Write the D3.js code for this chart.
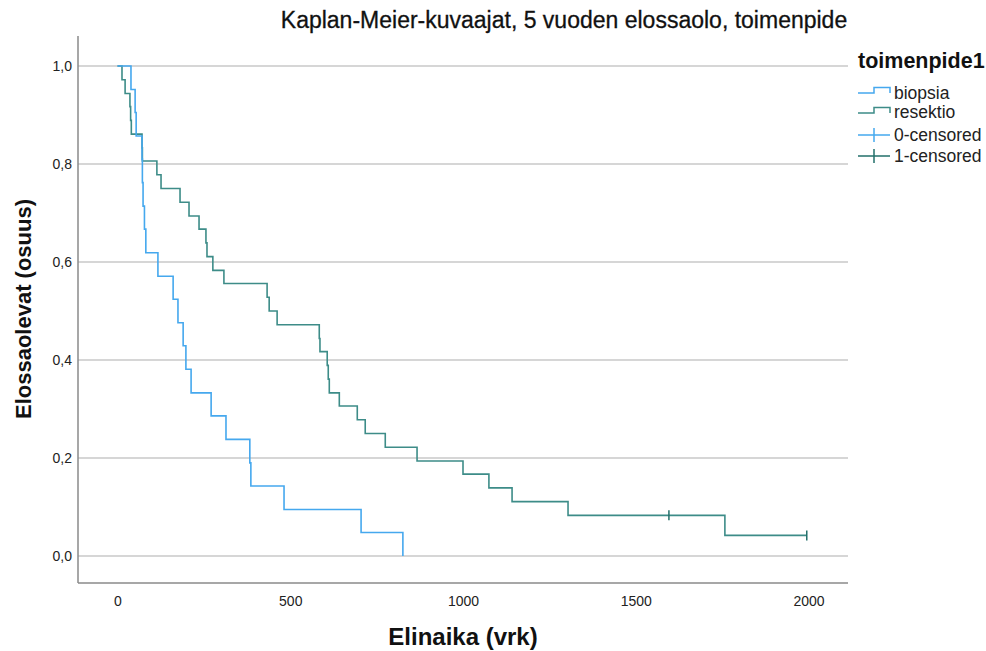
<!DOCTYPE html>
<html>
<head>
<meta charset="utf-8">
<script src="https://cdn.jsdelivr.net/npm/d3@7/dist/d3.min.js"></script>
<style>
html,body{margin:0;padding:0;background:#fff;}
svg{display:block;font-family:"Liberation Sans",Arial,sans-serif;}
</style>
</head>
<body>
<svg id="chart" width="986" height="651"></svg>
<script>
// ---- data ----
const title = "Kaplan-Meier-kuvaajat, 5 vuoden elossaolo, toimenpide";
const xTitle = "Elinaika (vrk)";
const yTitle = "Elossaolevat (osuus)";
const legendTitle = "toimenpide1";
const seriesNames = ["biopsia", "resektio"];
const censorNames = ["0-censored", "1-censored"];
const xTicks = [0, 500, 1000, 1500, 2000];
const yTicks = [0, 0.2, 0.4, 0.6, 0.8, 1.0];

const biopsiaTimes = [0, 39, 51, 54, 71, 72, 74, 78, 82, 117, 161, 175, 190, 198, 213, 271, 314, 383, 386, 482, 705, 826];
const biopsiaSurv  = [1, 0.952, 0.905, 0.857, 0.810, 0.762, 0.714, 0.667, 0.619, 0.571, 0.524, 0.476, 0.429, 0.381, 0.333, 0.286, 0.238, 0.190, 0.143, 0.095, 0.048, 0];

const resektioTimes = [0, 13, 22, 36, 38, 40, 71, 72, 114, 126, 181, 207, 236, 256, 259, 276, 308, 433, 439, 462, 584, 586, 607, 610, 613, 642, 694, 717, 775, 867, 1000, 1075, 1142, 1304, 1758];
const resektioSurv  = [1, 0.972, 0.944, 0.917, 0.889, 0.861, 0.833, 0.806, 0.778, 0.750, 0.722, 0.694, 0.667, 0.639, 0.611, 0.583, 0.556, 0.528, 0.500, 0.472, 0.444, 0.417, 0.389, 0.361, 0.333, 0.306, 0.278, 0.250, 0.222, 0.194, 0.167, 0.139, 0.111, 0.083, 0.042];
const resektioEnd = 1995;
const resektioCensTimes = [1596, 1995];
const resektioCensSurv  = [0.083, 0.042];

// ---- layout ----
const colors = ["#45a8ee", "#3d8c88"];
const censColors = ["#45a8ee", "#226f6a"];
const svg = d3.select("#chart");
const plotL = 78, plotR = 848, plotT = 36, plotB = 583;

const x = d3.scaleLinear().domain([0, 2000]).range([117.5, 808.5]);
const y = d3.scaleLinear().domain([0, 1]).range([556, 66]);

// gridlines
svg.append("g").selectAll("line").data(yTicks).join("line")
  .attr("x1", plotL).attr("x2", plotR)
  .attr("y1", d => y(d)).attr("y2", d => y(d))
  .attr("stroke", "#c8c8c8").attr("stroke-width", 1.5);

// axes lines
svg.append("line").attr("x1", plotL).attr("x2", plotL).attr("y1", plotT).attr("y2", plotB)
  .attr("stroke", "#8a8a8a").attr("stroke-width", 1.5);
svg.append("line").attr("x1", plotL).attr("x2", plotR).attr("y1", plotB).attr("y2", plotB)
  .attr("stroke", "#8a8a8a").attr("stroke-width", 1.5);

// axis tick labels via d3 axes (no tick lines)
const fmt = d => d3.format(".1f")(d).replace(".", ",");
const yAxis = svg.append("g").attr("transform", `translate(${plotL},0)`)
  .call(d3.axisLeft(y).tickValues(yTicks).tickFormat(fmt).tickSize(0).tickPadding(6));
yAxis.select(".domain").remove();
yAxis.selectAll("text").attr("font-size", 14).attr("fill", "#222").attr("font-family", "Liberation Sans, Arial, sans-serif");

const xAxis = svg.append("g").attr("transform", `translate(0,${plotB})`)
  .call(d3.axisBottom(x).tickValues(xTicks).tickFormat(d3.format("d")).tickSize(0).tickPadding(13));
xAxis.select(".domain").remove();
xAxis.selectAll("text").attr("font-size", 14).attr("fill", "#222").attr("font-family", "Liberation Sans, Arial, sans-serif");

// step lines
function stepPoints(times, surv, end) {
  const pts = times.map((t, i) => [t, surv[i]]);
  if (end !== undefined) pts.push([end, surv[surv.length - 1]]);
  return pts;
}
const line = d3.line().x(d => x(d[0])).y(d => y(d[1])).curve(d3.curveStepAfter);

svg.append("path").datum(stepPoints(resektioTimes, resektioSurv, resektioEnd))
  .attr("d", line).attr("fill", "none").attr("stroke", colors[1]).attr("stroke-width", 1.6);
svg.append("path").datum(stepPoints(biopsiaTimes, biopsiaSurv))
  .attr("d", line).attr("fill", "none").attr("stroke", colors[0]).attr("stroke-width", 1.6);

// censor marks
svg.append("g").selectAll("line").data(resektioCensTimes.map((t, i) => [t, resektioCensSurv[i]])).join("line")
  .attr("x1", d => x(d[0])).attr("x2", d => x(d[0]))
  .attr("y1", d => y(d[1]) - 5).attr("y2", d => y(d[1]) + 5)
  .attr("stroke", censColors[1]).attr("stroke-width", 1.5);

// title
svg.append("text").attr("x", 564).attr("y", 28).attr("text-anchor", "middle")
  .attr("font-size", 23).attr("fill", "#111").attr("stroke", "#111").attr("stroke-width", 0.3).text(title);

// axis titles
svg.append("text").attr("x", 463).attr("y", 645).attr("text-anchor", "middle")
  .attr("font-size", 24).attr("font-weight", "bold").attr("fill", "#111").text(xTitle);
svg.append("text").attr("transform", "translate(31,309) rotate(-90)").attr("text-anchor", "middle")
  .attr("font-size", 22).attr("font-weight", "bold").attr("fill", "#111").text(yTitle);

// legend
const lg = svg.append("g");
lg.append("text").attr("x", 858).attr("y", 68).attr("font-size", 21.5).attr("font-weight", "bold")
  .attr("fill", "#111").text(legendTitle);
const symY = [93, 113];
const textY = [99, 118];
seriesNames.forEach((name, i) => {
  const yy = symY[i];
  lg.append("path").attr("d", `M858,${yy}H874V${yy-5.5}H890V${yy}`)
    .attr("fill", "none").attr("stroke", colors[i]).attr("stroke-width", 1.5);
  lg.append("text").attr("x", 894).attr("y", textY[i]).attr("font-size", 17.5).attr("fill", "#222").text(name);
});
const censY = [135, 156];
censorNames.forEach((name, i) => {
  const yy = censY[i];
  lg.append("line").attr("x1", 858).attr("x2", 890).attr("y1", yy).attr("y2", yy)
    .attr("stroke", censColors[i]).attr("stroke-width", 1.5);
  lg.append("line").attr("x1", 874).attr("x2", 874).attr("y1", yy - 7).attr("y2", yy + 7)
    .attr("stroke", censColors[i]).attr("stroke-width", 1.5);
  lg.append("text").attr("x", 894).attr("y", yy + 6).attr("font-size", 17.5).attr("fill", "#222").text(name);
});
</script>
</body>
</html>
